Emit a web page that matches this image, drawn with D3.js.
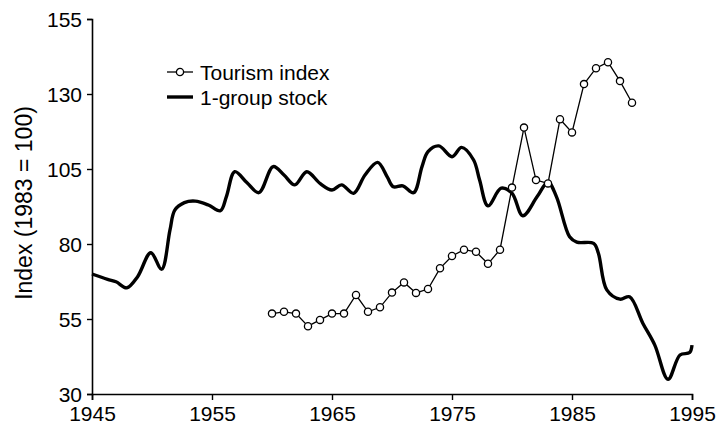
<!DOCTYPE html>
<html>
<head>
<meta charset="utf-8">
<script src="https://cdn.jsdelivr.net/npm/d3@7"></script>
<style>
  body { margin: 0; background: #fff; }
  svg { display: block; font-family: "Liberation Sans", Arial, sans-serif; }
</style>
</head>
<body>
<script>
// Tourism index, one point a year
const tourismYears = [1960, 1961, 1962, 1963, 1964, 1965, 1966, 1967, 1968, 1969,
  1970, 1971, 1972, 1973, 1974, 1975, 1976, 1977, 1978, 1979,
  1980, 1981, 1982, 1983, 1984, 1985, 1986, 1987, 1988, 1989, 1990];
const tourismValues = [56.8, 57.4, 56.8, 52.6, 54.7, 56.8, 56.8, 63, 57.4, 58.9,
  63.8, 67.2, 63.7, 65, 71.9, 76, 78.1, 77.4, 73.4, 78.1,
  98.8, 118.8, 101.3, 100.2, 121.6, 117.2, 133.3, 138.6, 140.6, 134.3, 127.1];

// 1-group stock
const stockYears = [1945, 1946.3, 1947, 1947.9, 1948.8, 1949.9, 1950.8, 1951.5, 1951.9, 1952.7,
  1953.6, 1954.7, 1955.7, 1956.2, 1956.9, 1957.9, 1958.9, 1960.1, 1961, 1961.9,
  1962.9, 1964, 1965, 1965.8, 1966.8, 1967.75, 1968.8, 1969.6, 1970.1, 1970.9,
  1971.8, 1972.5, 1973, 1973.9, 1975, 1975.8, 1976.8, 1977.3, 1978, 1979.1,
  1980, 1980.9, 1982.1, 1983, 1983.7, 1984.8, 1985.4, 1986.8, 1987.2, 1987.9,
  1989, 1989.8, 1990.9, 1991.9, 1993, 1994, 1994.8, 1995];
const stockValues = [70, 68.2, 67.4, 65.4, 69.1, 77.1, 71.6, 84.7, 91.3, 93.8,
  94.3, 93, 91.1, 95.8, 104.1, 100.5, 97.1, 105.8, 103, 99.7,
  104.1, 100.2, 98, 99.7, 96.9, 103, 107.2, 102.4, 99.1, 99.4,
  97.1, 105.8, 110.8, 112.7, 109.1, 112.2, 108, 101.3, 92.7, 98.6,
  96.9, 89.4, 95.8, 100.6, 95.8, 82.4, 80.6, 80.2, 76.9, 64.7,
  61.6, 62.4, 53.6, 46.3, 34.9, 43, 43.8, 46.3];

const xTicks = [1945, 1955, 1965, 1975, 1985, 1995];
const yTicks = [30, 55, 80, 105, 130, 155];
const legendLabels = ["Tourism index", "1-group stock"];

const W = 718, H = 421;
const svg = d3.select("body").append("svg")
  .attr("width", W)
  .attr("height", H);

const x = d3.scaleLinear().domain([1945, 1995]).range([92, 692]);
const y = d3.scaleLinear().domain([30, 155]).range([394, 19]);

// axes
const xAxis = svg.append("g")
  .attr("transform", `translate(0, ${y(30)})`)
  .call(d3.axisBottom(x).tickValues(xTicks).tickFormat(d3.format("d")).tickSizeOuter(0).tickSize(6).tickPadding(6));

const yAxis = svg.append("g")
  .attr("transform", `translate(${x(1945)}, 0)`)
  .call(d3.axisLeft(y).tickValues(yTicks).tickSizeOuter(0).tickSize(5).tickPadding(5));

[xAxis, yAxis].forEach(g => {
  g.select(".domain").attr("stroke", "#000").attr("stroke-width", 1.6);
  g.selectAll(".tick line").attr("stroke", "#000").attr("stroke-width", 1.4);
  g.selectAll(".tick text")
    .attr("fill", "#000")
    .style("font-size", "21px")
    .style("font-family", "'Liberation Sans', Arial, sans-serif");
});
yAxis.selectAll(".tick text").attr("dy", "0.36em");

// y title
svg.append("text")
  .attr("transform", `translate(32, 203) rotate(-90)`)
  .attr("text-anchor", "middle")
  .style("font-size", "23px")
  .text("Index (1983 = 100)");

// stock line
const stock = stockYears.map((yr, i) => ({ yr, v: stockValues[i] }));
svg.append("path")
  .datum(stock)
  .attr("fill", "none")
  .attr("stroke", "#000")
  .attr("stroke-width", 3.4)
  .attr("stroke-linejoin", "round")
  .attr("d", d3.line().x(d => x(d.yr)).y(d => y(d.v)).curve(d3.curveCatmullRom.alpha(0.5)));

// tourism line + points
const tourism = tourismYears.map((yr, i) => ({ yr, v: tourismValues[i] }));
svg.append("path")
  .datum(tourism)
  .attr("fill", "none")
  .attr("stroke", "#000")
  .attr("stroke-width", 1.3)
  .attr("d", d3.line().x(d => x(d.yr)).y(d => y(d.v)));

svg.append("g").selectAll("circle")
  .data(tourism)
  .join("circle")
  .attr("cx", d => x(d.yr))
  .attr("cy", d => y(d.v))
  .attr("r", 3.6)
  .attr("fill", "#fff")
  .attr("stroke", "#000")
  .attr("stroke-width", 1.3);

// legend
const legend = svg.append("g").attr("transform", "translate(167, 72)");
legend.append("line").attr("x1", 0).attr("x2", 26).attr("y1", 0).attr("y2", 0)
  .attr("stroke", "#000").attr("stroke-width", 1.3);
legend.append("circle").attr("cx", 13).attr("cy", 0).attr("r", 3.6)
  .attr("fill", "#fff").attr("stroke", "#000").attr("stroke-width", 1.3);
legend.append("line").attr("x1", 0).attr("x2", 26).attr("y1", 25).attr("y2", 25)
  .attr("stroke", "#000").attr("stroke-width", 3.4);
legend.selectAll("text")
  .data(legendLabels)
  .join("text")
  .attr("x", 33)
  .attr("y", (d, i) => i * 25)
  .attr("dy", "0.36em")
  .style("font-size", "21px")
  .text(d => d);
</script>
</body>
</html>
